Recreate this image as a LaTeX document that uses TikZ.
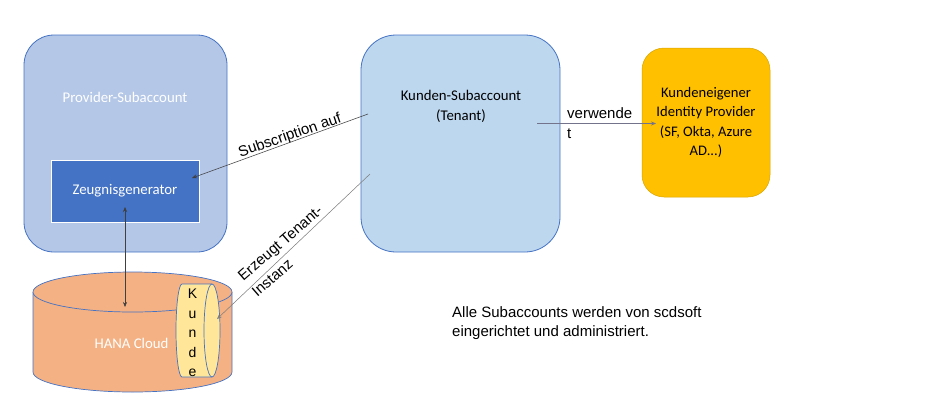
\documentclass[tikz,border=0pt]{standalone}
\usepackage{fontspec}
\setmainfont{Carlito}
\newfontfamily\arialf{Liberation Sans}
\usetikzlibrary{arrows.meta}
\definecolor{provfill}{HTML}{B4C7E7}
\definecolor{kundfill}{HTML}{BDD7EE}
\definecolor{edgeblue}{HTML}{4472C4}
\definecolor{zeugfill}{HTML}{4472C4}
\definecolor{idpfill}{HTML}{FFC000}
\definecolor{hanafill}{HTML}{F4B183}
\definecolor{kundefill}{HTML}{FFE699}
\definecolor{arrowgray}{HTML}{404040}
\tikzset{
  acctbox/.style={draw=edgeblue, line width=0.8pt, rectangle, inner sep=0pt},
  calib/.style={font=\fontsize{14.8}{20}\selectfont, inner sep=0pt},
  arialtxt/.style={font=\arialf\fontsize{15}{20}\selectfont, inner sep=0pt},
  conn/.style={draw=arrowgray, line width=0.55pt, -{Stealth[length=5pt,width=4pt]}},
}
\begin{document}
\begin{tikzpicture}[x=1pt,y=1pt]
\useasboundingbox (0,0) rectangle (945,-413);
% Provider-Subaccount
\node[acctbox, fill=provfill, minimum width=203pt, minimum height=217pt, rounded corners=30pt] (prov) at (125.5,-143.5) {};
\node[calib, text=white] (provlbl) at (125,-97) {Provider-Subaccount};
\node[rectangle, fill=zeugfill, draw=white, line width=0.8pt, minimum width=148pt, minimum height=62pt, calib, text=white] (zeug) at (125,-191) {Zeugnisgenerator};
% Kunden-Subaccount
\node[acctbox, fill=kundfill, minimum width=199pt, minimum height=217pt, rounded corners=35pt] (kund) at (460.5,-143.5) {};
\node[calib, align=center] (kundlbl) at (461,-106) {Kunden-Subaccount\\(Tenant)};
% Identity provider
\node[rectangle, fill=idpfill, draw=idpfill!85!black, line width=0.5pt, minimum width=128pt, minimum height=149pt, rounded corners=22pt, calib, align=center, font=\fontsize{14.6}{19.5}\selectfont] (idp) at (706,-122.5) {Kundeneigener\\Identity Provider\\(SF, Okta, Azure\\AD...)};
% HANA Cloud cylinder
\fill[hanafill] (33,-292) -- (33,-372) arc[start angle=180,end angle=360,x radius=99.5pt,y radius=20pt] -- (232,-292) -- cycle;
\draw[edgeblue, line width=0.7pt] (33,-292) -- (33,-372) arc[start angle=180,end angle=360,x radius=99.5pt,y radius=20pt] -- (232,-292);
\draw[edgeblue, line width=0.7pt, fill=hanafill] (132.5,-292) ellipse[x radius=99.5pt, y radius=20pt];
\node[calib, text=white] (hana) at (131.5,-343) {HANA Cloud};
% Kunde slice
\draw[edgeblue, line width=0.7pt, fill=kundefill] (212,-284) -- (182,-284) arc[start angle=90,end angle=270,x radius=6pt,y radius=46.5pt] -- (212,-377);
\draw[edgeblue, line width=0.7pt, fill=kundefill] (212,-330.5) ellipse[x radius=8pt, y radius=46.5pt];
\node[font=\arialf\fontsize{14}{19.5}\selectfont, align=center, inner sep=0pt] (kunde) at (192.5,-333) {K\\u\\n\\d\\e};
% connector end points
\coordinate (subS) at (368,-114);
\coordinate (subE) at (192,-178);
\coordinate (erzS) at (370,-174);
\coordinate (erzE) at (217,-319);
\coordinate (verS) at (537,-123.5);
\coordinate (verE) at (656,-123.5);
\coordinate (vTop) at (125,-207);
\coordinate (vBot) at (125,-307);
% connectors
\draw[conn] (subS) -- (subE);
\draw[conn, draw=gray] (erzS) -- (erzE);
\draw[conn, draw=gray!90!blue] (verS) -- (verE);
\draw[conn, {Stealth[length=5pt,width=4pt]}-{Stealth[length=5pt,width=4pt]}] (vTop) -- (vBot);
% labels
\node[arialtxt, rotate=19] (sublbl) at (290,-136) {Subscription auf};
\node[arialtxt, rotate=41, align=left, font=\arialf\fontsize{15}{21}\selectfont] (erzlbl) at (287,-251) {Erzeugt Tenant-\\Instanz};
\node[arialtxt, align=left, anchor=west] (verlbl) at (567,-123.5) {verwende\\t};
\node[arialtxt, align=left, anchor=north west, font=\arialf\fontsize{15}{19}\selectfont] (note) at (452,-306) {Alle Subaccounts werden von scdsoft\\eingerichtet und administriert.};
\end{tikzpicture}
\end{document}
